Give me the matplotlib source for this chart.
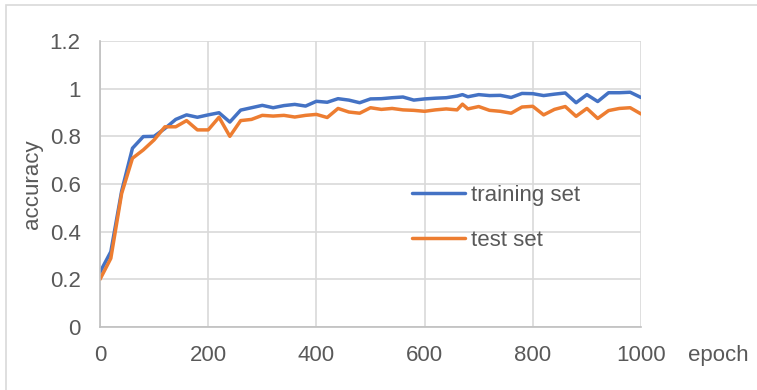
import matplotlib
matplotlib.use("Agg")
from matplotlib import pyplot as plt
from matplotlib.patches import Rectangle

epochs = [0, 20, 40, 60, 80, 100, 120, 140, 160, 180, 200, 220, 240, 260, 280,
          300, 320, 340, 360, 380, 400, 420, 440, 460, 480, 500, 520, 540, 560,
          580, 600, 620, 640, 660, 670, 680, 700, 720, 740, 760, 780, 800, 820,
          840, 860, 880, 900, 920, 940, 960, 980, 1000]
train_acc = [0.23, 0.316, 0.57, 0.75, 0.799, 0.80, 0.833, 0.871, 0.89, 0.88,
             0.89, 0.899, 0.86, 0.91, 0.92, 0.93, 0.92, 0.929, 0.934, 0.927,
             0.947, 0.943, 0.958, 0.952, 0.941, 0.957, 0.958, 0.962, 0.965,
             0.952, 0.957, 0.96, 0.962, 0.969, 0.975, 0.966, 0.975, 0.971,
             0.972, 0.963, 0.98, 0.979, 0.971, 0.977, 0.982, 0.941, 0.975,
             0.946, 0.983, 0.983, 0.985, 0.963]
test_acc = [0.20, 0.288, 0.56, 0.708, 0.743, 0.785, 0.84, 0.84, 0.866, 0.827,
            0.827, 0.88, 0.80, 0.866, 0.871, 0.888, 0.885, 0.888, 0.881, 0.888,
            0.892, 0.879, 0.917, 0.902, 0.897, 0.92, 0.913, 0.917, 0.911,
            0.909, 0.905, 0.911, 0.915, 0.911, 0.935, 0.915, 0.925, 0.909,
            0.905, 0.897, 0.923, 0.926, 0.89, 0.913, 0.925, 0.884, 0.917,
            0.875, 0.908, 0.917, 0.92, 0.894]

text_col = "#595959"
grid_col = "#D9D9D9"
plt.rcParams["font.family"] = ["Liberation Sans", "DejaVu Sans"]

fig = plt.figure(figsize=(7.57, 3.9), dpi=100)
ax = fig.add_axes([100 / 757, 63 / 390, 541 / 757, 286 / 390])

ax.plot(epochs, train_acc, color="#4472C4", lw=2.5, label="training set", solid_capstyle="round")
ax.plot(epochs, test_acc, color="#ED7D31", lw=2.5, label="test set", solid_capstyle="round")

ax.set_xlim(0, 1000)
ax.set_ylim(0, 1.2)
ax.set_xticks([0, 200, 400, 600, 800, 1000])
ax.set_yticks([0, 0.2, 0.4, 0.6, 0.8, 1.0, 1.2])
ax.set_yticklabels(["0", "0.2", "0.4", "0.6", "0.8", "1", "1.2"])
ax.grid(True, color=grid_col, lw=1.2)
ax.set_axisbelow(True)
ax.tick_params(length=0, labelsize=16, labelcolor=text_col)
ax.tick_params(axis="y", pad=14)
ax.tick_params(axis="x", pad=13)
for s in ["top", "right"]:
    ax.spines[s].set_visible(False)
for s in ["left", "bottom"]:
    ax.spines[s].set_color("#BFBFBF")
    ax.spines[s].set_linewidth(1.2)

ax.set_ylabel("accuracy", fontsize=16, color=text_col, labelpad=5)
fig.text(688 / 757, 1 - 355 / 390, "epoch", fontsize=16, color=text_col,
         ha="left", va="center")

leg = ax.legend(loc="upper left", bbox_to_anchor=(0.577, 0.497), frameon=False,
                fontsize=16, handlelength=2.4, handletextpad=0.25,
                labelspacing=1.08, borderpad=0, borderaxespad=0)
for t in leg.get_texts():
    t.set_color(text_col)

fig.patches.append(Rectangle((6 / 757, -0.1), 2, 1 - 5 / 390 + 0.1,
                             transform=fig.transFigure, fill=False,
                             edgecolor=grid_col, lw=1.2))

fig.savefig("out.png", dpi=100)
